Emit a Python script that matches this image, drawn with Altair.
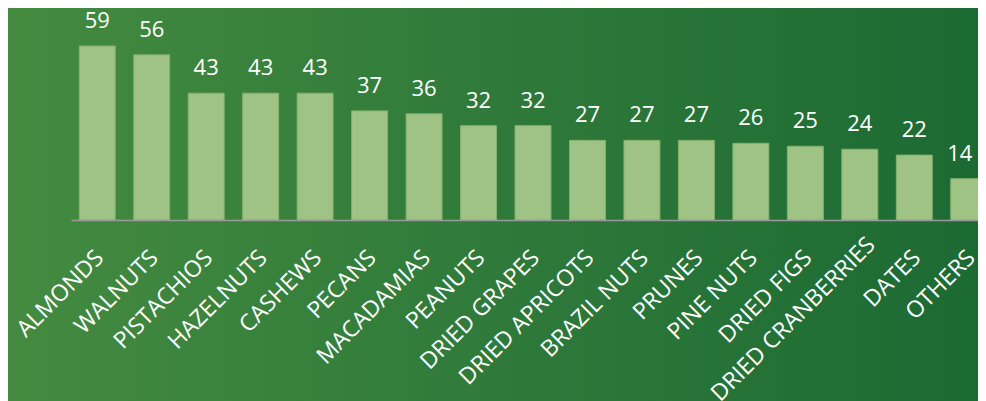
import altair as alt
import pandas as pd

categories = ["ALMONDS", "WALNUTS", "PISTACHIOS", "HAZELNUTS", "CASHEWS", "PECANS",
              "MACADAMIAS", "PEANUTS", "DRIED GRAPES", "DRIED APRICOTS", "BRAZIL NUTS",
              "PRUNES", "PINE NUTS", "DRIED FIGS", "DRIED CRANBERRIES", "DATES", "OTHERS"]
values = [59, 56, 43, 43, 43, 37, 36, 32, 32, 27, 27, 27, 26, 25, 24, 22, 14]

df = pd.DataFrame({"category": categories, "value": values})
bg_df = pd.DataFrame({"a": [0]})

FONT = "Open Sans"
LONG = "DRIED CRANBERRIES"
LAST = categories[-1]

xscale = alt.Scale(range=[0, 924], paddingInner=0.34, paddingOuter=0.152)
xenc = alt.X("category:N", sort=None, scale=xscale,
             axis=alt.Axis(title=None, labelAngle=-45, labelColor="white", labelFontSize=23,
                           labelFont=FONT, ticks=False, domainColor="#9a9a9a",
                           domainWidth=1.5,
                           labelPadding={"condition": {"test": f"datum.value === '{LONG}'", "value": 13},
                                         "value": 26},
                           labelOffset={"condition": {"test": f"datum.value === '{LONG}'", "value": 4},
                                        "value": -5},
                           labelOverlap=False, labelLimit=400, zindex=1))
yenc = alt.Y("value:Q", scale=alt.Scale(domain=[0, 59], nice=False), axis=None)

background = alt.Chart(bg_df).mark_rect(
    color=alt.Gradient(gradient="linear",
                       stops=[alt.GradientStop(color="#448b40", offset=0),
                              alt.GradientStop(color="#2f7a3a", offset=0.5),
                              alt.GradientStop(color="#1c6a33", offset=1)],
                       x1=0, x2=1, y1=0, y2=0)
).encode(x=alt.value(-63), x2=alt.value(915), y=alt.value(-38), y2=alt.value(360))

bars = alt.Chart(df).mark_bar(color="#9ec385", stroke="#86b06e", strokeWidth=1).encode(
    x=xenc, y=yenc)

labels = alt.Chart(df).transform_filter(f"datum.category !== '{LAST}'").mark_text(
    dy=-18, baseline="alphabetic", fontSize=22, font=FONT, color="white").encode(
    x=alt.X("category:N", sort=None, scale=xscale), y=alt.Y("value:Q"), text="value:Q")

last_label = alt.Chart(df).transform_filter(f"datum.category === '{LAST}'").mark_text(
    dy=-18, dx=-9, baseline="alphabetic", fontSize=22, font=FONT, color="white").encode(
    x=alt.X("category:N", sort=None, scale=xscale), y=alt.Y("value:Q"), text="value:Q")

chart = alt.layer(background, bars, labels, last_label).properties(
    width=907, height=174,
    autosize=alt.AutoSizeParams(type="none"),
    padding={"left": 63, "top": 38, "right": 0, "bottom": 181},
    background="#2f7a3a"
).configure_view(stroke=None)

chart.save("out.html", embed_options={"renderer": "svg", "actions": False})
